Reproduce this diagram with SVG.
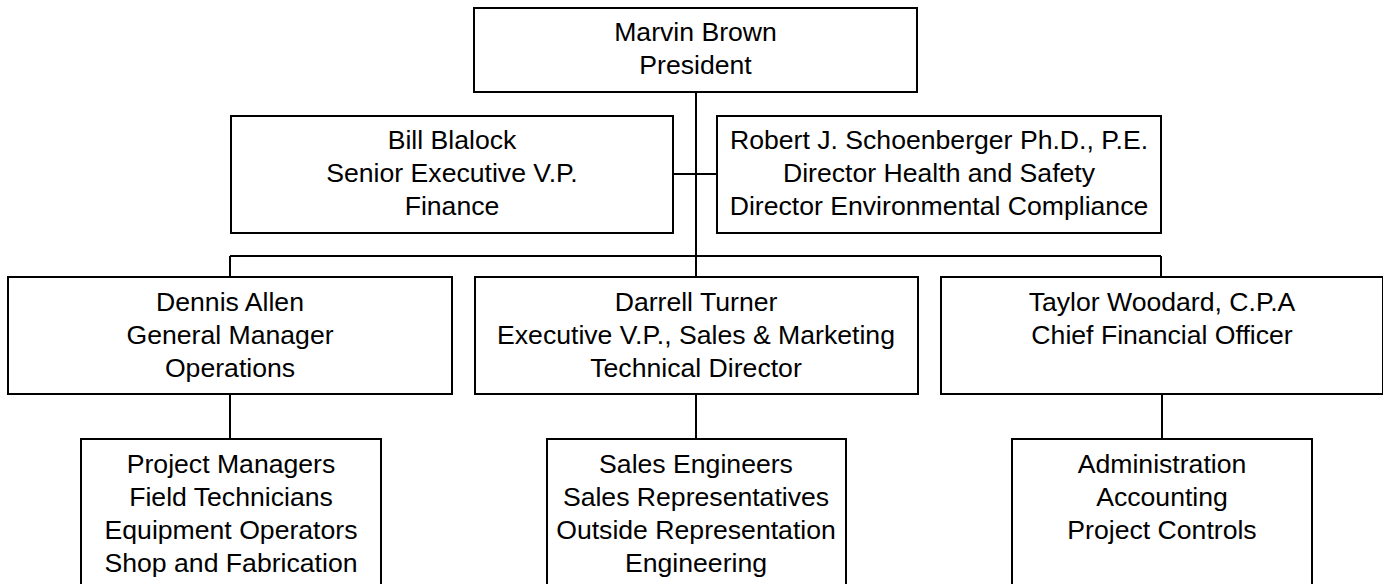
<svg xmlns="http://www.w3.org/2000/svg" width="1383" height="584" viewBox="0 0 1383 584">
<style>
.box{fill:#fff;stroke:#000;stroke-width:2}
.lbl{font-family:"Liberation Sans",Arial,sans-serif;font-size:25px;fill:#000;text-anchor:middle}
.wire{fill:none;stroke:#000;stroke-width:2}
</style>
<rect width="1383" height="584" fill="#fff"/>
<g id="connectors">
<path class="wire" d="M696 92 V256"/>
<path class="wire" d="M673 174 H717"/>
<path class="wire" d="M230 256 H1161"/>
<path class="wire" d="M230 256 V277"/>
<path class="wire" d="M696 256 V277"/>
<path class="wire" d="M1161 256 V277"/>
<path class="wire" d="M230 394 V439"/>
<path class="wire" d="M696 394 V439"/>
<path class="wire" d="M1162 394 V439"/>
</g>
<g id="president">
<rect class="box" x="474" y="8" width="443" height="84"/>
<text class="lbl" transform="translate(695.5,0) scale(1.065,1)"><tspan x="0" y="41">Marvin Brown</tspan><tspan x="0" y="74">President</tspan></text>
</g>
<g id="bill">
<rect class="box" x="231" y="116" width="442" height="117"/>
<text class="lbl" transform="translate(452,0) scale(1.065,1)"><tspan x="0" y="149">Bill Blalock</tspan><tspan x="0" y="182">Senior Executive V.P.</tspan><tspan x="0" y="215">Finance</tspan></text>
</g>
<g id="robert">
<rect class="box" x="717" y="116" width="444" height="117"/>
<text class="lbl" transform="translate(939,0) scale(1.065,1)"><tspan x="0" y="149">Robert J. Schoenberger Ph.D., P.E.</tspan><tspan x="0" y="182">Director Health and Safety</tspan><tspan x="0" y="215">Director Environmental Compliance</tspan></text>
</g>
<g id="dennis">
<rect class="box" x="8" y="277" width="444" height="117"/>
<text class="lbl" transform="translate(230,0) scale(1.065,1)"><tspan x="0" y="311">Dennis Allen</tspan><tspan x="0" y="344">General Manager</tspan><tspan x="0" y="377">Operations</tspan></text>
</g>
<g id="darrell">
<rect class="box" x="475" y="277" width="443" height="117"/>
<text class="lbl" transform="translate(696,0) scale(1.065,1)"><tspan x="0" y="311">Darrell Turner</tspan><tspan x="0" y="344">Executive V.P., Sales &amp; Marketing</tspan><tspan x="0" y="377">Technical Director</tspan></text>
</g>
<g id="taylor">
<rect class="box" x="941" y="277" width="442" height="117"/>
<text class="lbl" transform="translate(1162,0) scale(1.065,1)"><tspan x="0" y="311">Taylor Woodard, C.P.A</tspan><tspan x="0" y="344">Chief Financial Officer</tspan></text>
</g>
<g id="operations-staff">
<rect class="box" x="81" y="439" width="300" height="160"/>
<text class="lbl" transform="translate(231,0) scale(1.065,1)"><tspan x="0" y="473">Project Managers</tspan><tspan x="0" y="506">Field Technicians</tspan><tspan x="0" y="539">Equipment Operators</tspan><tspan x="0" y="572">Shop and Fabrication</tspan></text>
</g>
<g id="sales-staff">
<rect class="box" x="547" y="439" width="299" height="160"/>
<text class="lbl" transform="translate(696,0) scale(1.065,1)"><tspan x="0" y="473">Sales Engineers</tspan><tspan x="0" y="506">Sales Representatives</tspan><tspan x="0" y="539">Outside Representation</tspan><tspan x="0" y="572">Engineering</tspan></text>
</g>
<g id="finance-staff">
<rect class="box" x="1012" y="439" width="300" height="160"/>
<text class="lbl" transform="translate(1162,0) scale(1.065,1)"><tspan x="0" y="473">Administration</tspan><tspan x="0" y="506">Accounting</tspan><tspan x="0" y="539">Project Controls</tspan></text>
</g>
</svg>
